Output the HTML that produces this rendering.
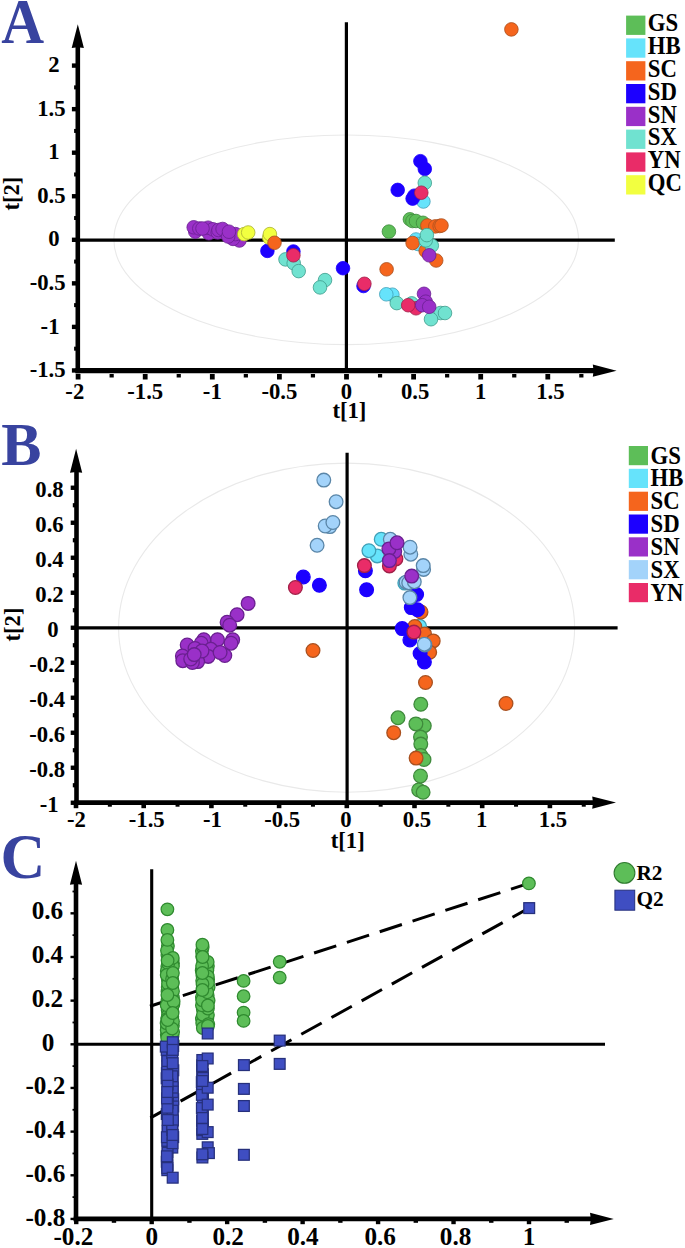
<!DOCTYPE html>
<html><head><meta charset="utf-8"><title>Figure</title>
<style>
html,body{margin:0;padding:0;background:#fff;}
body{width:685px;height:1248px;overflow:hidden;font-family:"Liberation Serif",serif;}
svg{display:block;position:absolute;left:0;top:0;}
text{font-family:"Liberation Serif",serif;font-weight:bold;fill:#000;}
</style></head><body>
<svg width="685" height="1248" viewBox="0 0 685 1248">
<rect width="685" height="1248" fill="#fff"/>
<ellipse cx="346.2" cy="239.8" rx="232.3" ry="104.8" fill="none" stroke="#e9e9e9" stroke-width="1.1"/>
<line x1="78" y1="240.2" x2="614.8" y2="240.2" stroke="#000" stroke-width="3.2"/>
<line x1="346.4" y1="22.3" x2="346.4" y2="370" stroke="#000" stroke-width="3.2"/>
<line x1="77.8" y1="39.3" x2="77.8" y2="373.3" stroke="#000" stroke-width="4.6"/>
<line x1="75.5" y1="370.7" x2="601.6" y2="370.7" stroke="#000" stroke-width="5.2"/>
<path d="M77.8,24.3 L83.9,48.1 L77.8,47.3 L71.7,48.1 Z" fill="#000"/>
<path d="M616.6,370.7 L592.8,376.8 L593.6,370.7 L592.8,364.6 Z" fill="#000"/>
<line x1="71.9" y1="65.6" x2="77.8" y2="65.6" stroke="#000" stroke-width="4.4"/>
<text transform="translate(59.5,72.2) scale(1.0,1)" font-size="22.7" text-anchor="end">2</text>
<line x1="71.9" y1="109.15" x2="77.8" y2="109.15" stroke="#000" stroke-width="4.4"/>
<text transform="translate(65.6,115.8) scale(1.0,1)" font-size="22.7" text-anchor="end">1.5</text>
<line x1="71.9" y1="152.7" x2="77.8" y2="152.7" stroke="#000" stroke-width="4.4"/>
<text transform="translate(59.5,159.3) scale(1.0,1)" font-size="22.7" text-anchor="end">1</text>
<line x1="71.9" y1="196.25" x2="77.8" y2="196.25" stroke="#000" stroke-width="4.4"/>
<text transform="translate(65.6,202.8) scale(1.0,1)" font-size="22.7" text-anchor="end">0.5</text>
<line x1="71.9" y1="239.8" x2="77.8" y2="239.8" stroke="#000" stroke-width="4.4"/>
<text transform="translate(59.5,246.4) scale(1.0,1)" font-size="22.7" text-anchor="end">0</text>
<line x1="71.9" y1="283.35" x2="77.8" y2="283.35" stroke="#000" stroke-width="4.4"/>
<text transform="translate(65.6,290.0) scale(1.0,1)" font-size="22.7" text-anchor="end">-0.5</text>
<line x1="71.9" y1="326.9" x2="77.8" y2="326.9" stroke="#000" stroke-width="4.4"/>
<text transform="translate(59.5,333.5) scale(1.0,1)" font-size="22.7" text-anchor="end">-1</text>
<line x1="71.9" y1="370.45" x2="77.8" y2="370.45" stroke="#000" stroke-width="4.4"/>
<text transform="translate(65.6,377.1) scale(1.0,1)" font-size="22.7" text-anchor="end">-1.5</text>
<line x1="74.1" y1="87.38" x2="77.8" y2="87.38" stroke="#000" stroke-width="4.0"/>
<line x1="74.1" y1="130.93" x2="77.8" y2="130.93" stroke="#000" stroke-width="4.0"/>
<line x1="74.1" y1="174.48" x2="77.8" y2="174.48" stroke="#000" stroke-width="4.0"/>
<line x1="74.1" y1="218.03" x2="77.8" y2="218.03" stroke="#000" stroke-width="4.0"/>
<line x1="74.1" y1="261.57" x2="77.8" y2="261.57" stroke="#000" stroke-width="4.0"/>
<line x1="74.1" y1="305.12" x2="77.8" y2="305.12" stroke="#000" stroke-width="4.0"/>
<line x1="74.1" y1="348.68" x2="77.8" y2="348.68" stroke="#000" stroke-width="4.0"/>
<line x1="78.1" y1="374.0" x2="78.1" y2="379.5" stroke="#000" stroke-width="4.8"/>
<text transform="translate(74.8,398.9) scale(1.0,1)" font-size="22.7" text-anchor="middle">-2</text>
<line x1="145.2" y1="374.0" x2="145.2" y2="379.5" stroke="#000" stroke-width="4.8"/>
<text transform="translate(145.2,398.9) scale(1.0,1)" font-size="22.7" text-anchor="middle">-1.5</text>
<line x1="212.3" y1="374.0" x2="212.3" y2="379.5" stroke="#000" stroke-width="4.8"/>
<text transform="translate(212.3,398.9) scale(1.0,1)" font-size="22.7" text-anchor="middle">-1</text>
<line x1="279.4" y1="374.0" x2="279.4" y2="379.5" stroke="#000" stroke-width="4.8"/>
<text transform="translate(279.4,398.9) scale(1.0,1)" font-size="22.7" text-anchor="middle">-0.5</text>
<line x1="346.5" y1="374.0" x2="346.5" y2="379.5" stroke="#000" stroke-width="4.8"/>
<text transform="translate(346.5,398.9) scale(1.0,1)" font-size="22.7" text-anchor="middle">0</text>
<line x1="413.6" y1="374.0" x2="413.6" y2="379.5" stroke="#000" stroke-width="4.8"/>
<text transform="translate(415.1,398.9) scale(1.0,1)" font-size="22.7" text-anchor="middle">0.5</text>
<line x1="480.7" y1="374.0" x2="480.7" y2="379.5" stroke="#000" stroke-width="4.8"/>
<text transform="translate(480.7,398.9) scale(1.0,1)" font-size="22.7" text-anchor="middle">1</text>
<line x1="547.8" y1="374.0" x2="547.8" y2="379.5" stroke="#000" stroke-width="4.8"/>
<text transform="translate(550.4,398.9) scale(1.0,1)" font-size="22.7" text-anchor="middle">1.5</text>
<line x1="111.65" y1="374.0" x2="111.65" y2="377.5" stroke="#000" stroke-width="4.2"/>
<line x1="178.75" y1="374.0" x2="178.75" y2="377.5" stroke="#000" stroke-width="4.2"/>
<line x1="245.85" y1="374.0" x2="245.85" y2="377.5" stroke="#000" stroke-width="4.2"/>
<line x1="312.95" y1="374.0" x2="312.95" y2="377.5" stroke="#000" stroke-width="4.2"/>
<line x1="380.05" y1="374.0" x2="380.05" y2="377.5" stroke="#000" stroke-width="4.2"/>
<line x1="447.15" y1="374.0" x2="447.15" y2="377.5" stroke="#000" stroke-width="4.2"/>
<line x1="514.25" y1="374.0" x2="514.25" y2="377.5" stroke="#000" stroke-width="4.2"/>
<line x1="581.35" y1="374.0" x2="581.35" y2="377.5" stroke="#000" stroke-width="4.2"/>
<text transform="translate(1.2,43.0) scale(0.95,1)" font-size="62.5" text-anchor="start" style="fill:#38439f">A</text>
<text transform="translate(349.4,418.2) scale(1.0,1)" font-size="22.7" text-anchor="middle">t[1]</text>
<text transform="translate(19.0,193.6) rotate(-90)" font-size="22.7" text-anchor="middle">t[2]</text>
<circle cx="388.9" cy="231.6" r="6.8" fill="#5dbe58" stroke="#3f8a3c" stroke-width="0.8"/>
<circle cx="409.9" cy="219.3" r="6.8" fill="#5dbe58" stroke="#3f8a3c" stroke-width="0.8"/>
<circle cx="412.5" cy="221.0" r="6.8" fill="#5dbe58" stroke="#3f8a3c" stroke-width="0.8"/>
<circle cx="416.0" cy="221.0" r="6.8" fill="#5dbe58" stroke="#3f8a3c" stroke-width="0.8"/>
<circle cx="423.0" cy="222.8" r="6.8" fill="#5dbe58" stroke="#3f8a3c" stroke-width="0.8"/>
<circle cx="423.4" cy="201.5" r="6.8" fill="#66e3fb" stroke="#3fa0b8" stroke-width="0.8"/>
<circle cx="416.0" cy="239.5" r="6.8" fill="#66e3fb" stroke="#3fa0b8" stroke-width="0.8"/>
<circle cx="418.0" cy="244.0" r="6.8" fill="#66e3fb" stroke="#3fa0b8" stroke-width="0.8"/>
<circle cx="392.4" cy="294.7" r="6.8" fill="#66e3fb" stroke="#3fa0b8" stroke-width="0.8"/>
<circle cx="386.3" cy="294.3" r="6.8" fill="#66e3fb" stroke="#3fa0b8" stroke-width="0.8"/>
<circle cx="511.4" cy="29.4" r="6.8" fill="#f5651d" stroke="#a8501f" stroke-width="0.8"/>
<circle cx="427.4" cy="225.5" r="6.8" fill="#f5651d" stroke="#a8501f" stroke-width="0.8"/>
<circle cx="435.3" cy="226.4" r="6.8" fill="#f5651d" stroke="#a8501f" stroke-width="0.8"/>
<circle cx="439.7" cy="226.0" r="6.8" fill="#f5651d" stroke="#a8501f" stroke-width="0.8"/>
<circle cx="441.5" cy="225.5" r="6.8" fill="#f5651d" stroke="#a8501f" stroke-width="0.8"/>
<circle cx="412.6" cy="243.0" r="6.8" fill="#f5651d" stroke="#a8501f" stroke-width="0.8"/>
<circle cx="425.7" cy="250.9" r="6.8" fill="#f5651d" stroke="#a8501f" stroke-width="0.8"/>
<circle cx="436.2" cy="260.5" r="6.8" fill="#f5651d" stroke="#a8501f" stroke-width="0.8"/>
<circle cx="386.6" cy="269.3" r="6.8" fill="#f5651d" stroke="#a8501f" stroke-width="0.8"/>
<circle cx="420.4" cy="161.2" r="6.8" fill="#1c00ff" stroke="#1c00ff" stroke-width="0.8"/>
<circle cx="424.8" cy="168.9" r="6.8" fill="#1c00ff" stroke="#1c00ff" stroke-width="0.8"/>
<circle cx="397.7" cy="189.9" r="6.8" fill="#1c00ff" stroke="#1c00ff" stroke-width="0.8"/>
<circle cx="412.6" cy="198.6" r="6.8" fill="#1c00ff" stroke="#1c00ff" stroke-width="0.8"/>
<circle cx="414.3" cy="195.7" r="6.8" fill="#1c00ff" stroke="#1c00ff" stroke-width="0.8"/>
<circle cx="363.5" cy="286.0" r="6.8" fill="#1c00ff" stroke="#1c00ff" stroke-width="0.8"/>
<circle cx="267.4" cy="250.9" r="6.8" fill="#1c00ff" stroke="#1c00ff" stroke-width="0.8"/>
<circle cx="293.4" cy="251.5" r="6.8" fill="#1c00ff" stroke="#1c00ff" stroke-width="0.8"/>
<circle cx="343.0" cy="268.2" r="6.8" fill="#1c00ff" stroke="#1c00ff" stroke-width="0.8"/>
<circle cx="424.8" cy="182.9" r="6.8" fill="#70e2d0" stroke="#3f9c8c" stroke-width="0.8"/>
<circle cx="431.8" cy="245.6" r="6.8" fill="#70e2d0" stroke="#3f9c8c" stroke-width="0.8"/>
<circle cx="425.7" cy="240.4" r="6.8" fill="#70e2d0" stroke="#3f9c8c" stroke-width="0.8"/>
<circle cx="426.9" cy="235.1" r="6.8" fill="#70e2d0" stroke="#3f9c8c" stroke-width="0.8"/>
<circle cx="396.8" cy="303.1" r="6.8" fill="#70e2d0" stroke="#3f9c8c" stroke-width="0.8"/>
<circle cx="411.7" cy="303.4" r="6.8" fill="#70e2d0" stroke="#3f9c8c" stroke-width="0.8"/>
<circle cx="440.6" cy="313.0" r="6.8" fill="#70e2d0" stroke="#3f9c8c" stroke-width="0.8"/>
<circle cx="445.0" cy="313.0" r="6.8" fill="#70e2d0" stroke="#3f9c8c" stroke-width="0.8"/>
<circle cx="431.0" cy="319.2" r="6.8" fill="#70e2d0" stroke="#3f9c8c" stroke-width="0.8"/>
<circle cx="285.5" cy="259.4" r="6.8" fill="#70e2d0" stroke="#3f9c8c" stroke-width="0.8"/>
<circle cx="293.7" cy="263.2" r="6.8" fill="#70e2d0" stroke="#3f9c8c" stroke-width="0.8"/>
<circle cx="298.7" cy="271.1" r="6.8" fill="#70e2d0" stroke="#3f9c8c" stroke-width="0.8"/>
<circle cx="325.0" cy="280.1" r="6.8" fill="#70e2d0" stroke="#3f9c8c" stroke-width="0.8"/>
<circle cx="320.0" cy="287.4" r="6.8" fill="#70e2d0" stroke="#3f9c8c" stroke-width="0.8"/>
<circle cx="421.3" cy="192.7" r="6.8" fill="#e92c68" stroke="#a02048" stroke-width="0.8"/>
<circle cx="364.4" cy="283.8" r="6.8" fill="#e92c68" stroke="#a02048" stroke-width="0.8"/>
<circle cx="416.0" cy="308.3" r="6.8" fill="#e92c68" stroke="#a02048" stroke-width="0.8"/>
<circle cx="408.2" cy="305.2" r="6.8" fill="#e92c68" stroke="#a02048" stroke-width="0.8"/>
<circle cx="293.4" cy="255.3" r="6.8" fill="#e92c68" stroke="#a02048" stroke-width="0.8"/>
<circle cx="429.2" cy="255.3" r="6.8" fill="#9a30c8" stroke="#6a2090" stroke-width="0.8"/>
<circle cx="424.0" cy="293.8" r="6.8" fill="#9a30c8" stroke="#6a2090" stroke-width="0.8"/>
<circle cx="425.7" cy="301.7" r="6.8" fill="#9a30c8" stroke="#6a2090" stroke-width="0.8"/>
<circle cx="422.2" cy="305.2" r="6.8" fill="#9a30c8" stroke="#6a2090" stroke-width="0.8"/>
<circle cx="429.2" cy="306.8" r="6.8" fill="#9a30c8" stroke="#6a2090" stroke-width="0.8"/>
<circle cx="195.3" cy="231.7" r="6.8" fill="#9a30c8" stroke="#6a2090" stroke-width="0.8"/>
<circle cx="193.7" cy="227.3" r="6.8" fill="#9a30c8" stroke="#6a2090" stroke-width="0.8"/>
<circle cx="199.3" cy="228.5" r="6.8" fill="#9a30c8" stroke="#6a2090" stroke-width="0.8"/>
<circle cx="208.9" cy="233.3" r="6.8" fill="#9a30c8" stroke="#6a2090" stroke-width="0.8"/>
<circle cx="208.1" cy="227.7" r="6.8" fill="#9a30c8" stroke="#6a2090" stroke-width="0.8"/>
<circle cx="212.9" cy="229.3" r="6.8" fill="#9a30c8" stroke="#6a2090" stroke-width="0.8"/>
<circle cx="217.7" cy="232.5" r="6.8" fill="#9a30c8" stroke="#6a2090" stroke-width="0.8"/>
<circle cx="218.5" cy="230.0" r="6.8" fill="#9a30c8" stroke="#6a2090" stroke-width="0.8"/>
<circle cx="222.6" cy="229.0" r="6.8" fill="#9a30c8" stroke="#6a2090" stroke-width="0.8"/>
<circle cx="239.4" cy="240.5" r="6.8" fill="#9a30c8" stroke="#6a2090" stroke-width="0.8"/>
<circle cx="233.0" cy="238.9" r="6.8" fill="#9a30c8" stroke="#6a2090" stroke-width="0.8"/>
<circle cx="235.4" cy="234.1" r="6.8" fill="#9a30c8" stroke="#6a2090" stroke-width="0.8"/>
<circle cx="228.2" cy="236.5" r="6.8" fill="#9a30c8" stroke="#6a2090" stroke-width="0.8"/>
<circle cx="229.0" cy="231.7" r="6.8" fill="#9a30c8" stroke="#6a2090" stroke-width="0.8"/>
<circle cx="202.5" cy="228.5" r="6.8" fill="#9a30c8" stroke="#6a2090" stroke-width="0.8"/>
<circle cx="244.2" cy="234.1" r="6.8" fill="#f2ff40" stroke="#a8b030" stroke-width="0.8"/>
<circle cx="248.2" cy="232.5" r="6.8" fill="#f2ff40" stroke="#a8b030" stroke-width="0.8"/>
<circle cx="269.2" cy="237.6" r="6.8" fill="#f2ff40" stroke="#a8b030" stroke-width="0.8"/>
<circle cx="269.9" cy="234.1" r="6.8" fill="#f2ff40" stroke="#a8b030" stroke-width="0.8"/>
<circle cx="274.5" cy="242.8" r="6.8" fill="#f5651d" stroke="#a8501f" stroke-width="0.8"/>
<rect x="626.1" y="15.6" width="19.3" height="19.3" fill="#5dbe58"/>
<text transform="translate(647.8,31.3) scale(0.94,1)" font-size="24.2" text-anchor="start">GS</text>
<rect x="626.1" y="38.4" width="19.3" height="19.3" fill="#66e3fb"/>
<text transform="translate(647.8,54.1) scale(0.94,1)" font-size="24.2" text-anchor="start">HB</text>
<rect x="626.1" y="61.2" width="19.3" height="19.3" fill="#f5651d"/>
<text transform="translate(647.8,76.9) scale(0.94,1)" font-size="24.2" text-anchor="start">SC</text>
<rect x="626.1" y="84.0" width="19.3" height="19.3" fill="#1c00ff"/>
<text transform="translate(647.8,99.7) scale(0.94,1)" font-size="24.2" text-anchor="start">SD</text>
<rect x="626.1" y="106.8" width="19.3" height="19.3" fill="#9a30c8"/>
<text transform="translate(647.8,122.5) scale(0.94,1)" font-size="24.2" text-anchor="start">SN</text>
<rect x="626.1" y="129.6" width="19.3" height="19.3" fill="#70e2d0"/>
<text transform="translate(647.8,145.3) scale(0.94,1)" font-size="24.2" text-anchor="start">SX</text>
<rect x="626.1" y="152.4" width="19.3" height="19.3" fill="#e92c68"/>
<text transform="translate(647.8,168.1) scale(0.94,1)" font-size="24.2" text-anchor="start">YN</text>
<rect x="626.1" y="175.2" width="19.3" height="19.3" fill="#f2ff40"/>
<text transform="translate(647.8,190.9) scale(0.94,1)" font-size="24.2" text-anchor="start">QC</text>
<ellipse cx="346.6" cy="627.65" rx="228" ry="164.55" fill="none" stroke="#e9e9e9" stroke-width="1.1"/>
<line x1="76" y1="627.85" x2="617.6" y2="627.85" stroke="#000" stroke-width="3.2"/>
<line x1="347.1" y1="452.8" x2="347.1" y2="803" stroke="#000" stroke-width="3.2"/>
<line x1="76.5" y1="463.8" x2="76.5" y2="804.9" stroke="#000" stroke-width="4.6"/>
<line x1="74.2" y1="802.6" x2="601" y2="802.6" stroke="#000" stroke-width="4.6"/>
<path d="M76.1,448.8 L82.2,472.8 L76.1,472.0 L70.0,472.8 Z" fill="#000"/>
<path d="M616,802.6 L592.2,808.7 L593.0,802.6 L592.2,796.5 Z" fill="#000"/>
<line x1="70.7" y1="802.75" x2="76.5" y2="802.75" stroke="#000" stroke-width="4.4"/>
<text transform="translate(58.6,812.0) scale(1.0,1)" font-size="22.7" text-anchor="end">-1</text>
<line x1="72.8" y1="785.25" x2="76.5" y2="785.25" stroke="#000" stroke-width="4.2"/>
<line x1="70.7" y1="767.75" x2="76.5" y2="767.75" stroke="#000" stroke-width="4.4"/>
<text transform="translate(65.2,777.0) scale(1.0,1)" font-size="22.7" text-anchor="end">-0.8</text>
<line x1="72.8" y1="750.25" x2="76.5" y2="750.25" stroke="#000" stroke-width="4.2"/>
<line x1="70.7" y1="732.75" x2="76.5" y2="732.75" stroke="#000" stroke-width="4.4"/>
<text transform="translate(65.2,742.0) scale(1.0,1)" font-size="22.7" text-anchor="end">-0.6</text>
<line x1="72.8" y1="715.25" x2="76.5" y2="715.25" stroke="#000" stroke-width="4.2"/>
<line x1="70.7" y1="697.75" x2="76.5" y2="697.75" stroke="#000" stroke-width="4.4"/>
<text transform="translate(65.2,707.0) scale(1.0,1)" font-size="22.7" text-anchor="end">-0.4</text>
<line x1="72.8" y1="680.25" x2="76.5" y2="680.25" stroke="#000" stroke-width="4.2"/>
<line x1="70.7" y1="662.75" x2="76.5" y2="662.75" stroke="#000" stroke-width="4.4"/>
<text transform="translate(65.2,672.0) scale(1.0,1)" font-size="22.7" text-anchor="end">-0.2</text>
<line x1="72.8" y1="645.25" x2="76.5" y2="645.25" stroke="#000" stroke-width="4.2"/>
<line x1="70.7" y1="627.75" x2="76.5" y2="627.75" stroke="#000" stroke-width="4.4"/>
<text transform="translate(58.6,637.0) scale(1.0,1)" font-size="22.7" text-anchor="end">0</text>
<line x1="72.8" y1="610.25" x2="76.5" y2="610.25" stroke="#000" stroke-width="4.2"/>
<line x1="70.7" y1="592.75" x2="76.5" y2="592.75" stroke="#000" stroke-width="4.4"/>
<text transform="translate(63.7,602.0) scale(1.0,1)" font-size="22.7" text-anchor="end">0.2</text>
<line x1="72.8" y1="575.25" x2="76.5" y2="575.25" stroke="#000" stroke-width="4.2"/>
<line x1="70.7" y1="557.75" x2="76.5" y2="557.75" stroke="#000" stroke-width="4.4"/>
<text transform="translate(63.7,567.0) scale(1.0,1)" font-size="22.7" text-anchor="end">0.4</text>
<line x1="72.8" y1="540.25" x2="76.5" y2="540.25" stroke="#000" stroke-width="4.2"/>
<line x1="70.7" y1="522.75" x2="76.5" y2="522.75" stroke="#000" stroke-width="4.4"/>
<text transform="translate(63.7,532.0) scale(1.0,1)" font-size="22.7" text-anchor="end">0.6</text>
<line x1="72.8" y1="505.25" x2="76.5" y2="505.25" stroke="#000" stroke-width="4.2"/>
<line x1="70.7" y1="487.75" x2="76.5" y2="487.75" stroke="#000" stroke-width="4.4"/>
<text transform="translate(63.7,496.9) scale(1.0,1)" font-size="22.7" text-anchor="end">0.8</text>
<line x1="76.0" y1="802.6" x2="76.0" y2="808.2" stroke="#000" stroke-width="4.6"/>
<text transform="translate(76.5,827.0) scale(1.0,1)" font-size="22.7" text-anchor="middle">-2</text>
<line x1="143.7" y1="802.6" x2="143.7" y2="808.2" stroke="#000" stroke-width="4.6"/>
<text transform="translate(146.7,827.0) scale(1.0,1)" font-size="22.7" text-anchor="middle">-1.5</text>
<line x1="211.4" y1="802.6" x2="211.4" y2="808.2" stroke="#000" stroke-width="4.6"/>
<text transform="translate(212.4,827.0) scale(1.0,1)" font-size="22.7" text-anchor="middle">-1</text>
<line x1="279.1" y1="802.6" x2="279.1" y2="808.2" stroke="#000" stroke-width="4.6"/>
<text transform="translate(282.1,827.0) scale(1.0,1)" font-size="22.7" text-anchor="middle">-0.5</text>
<line x1="346.8" y1="802.6" x2="346.8" y2="808.2" stroke="#000" stroke-width="4.6"/>
<text transform="translate(345.8,827.0) scale(1.0,1)" font-size="22.7" text-anchor="middle">0</text>
<line x1="414.5" y1="802.6" x2="414.5" y2="808.2" stroke="#000" stroke-width="4.6"/>
<text transform="translate(417.0,827.0) scale(1.0,1)" font-size="22.7" text-anchor="middle">0.5</text>
<line x1="482.2" y1="802.6" x2="482.2" y2="808.2" stroke="#000" stroke-width="4.6"/>
<text transform="translate(481.7,827.0) scale(1.0,1)" font-size="22.7" text-anchor="middle">1</text>
<line x1="549.9" y1="802.6" x2="549.9" y2="808.2" stroke="#000" stroke-width="4.6"/>
<text transform="translate(552.9,827.0) scale(1.0,1)" font-size="22.7" text-anchor="middle">1.5</text>
<line x1="109.85" y1="802.6" x2="109.85" y2="806.7" stroke="#000" stroke-width="4.0"/>
<line x1="177.55" y1="802.6" x2="177.55" y2="806.7" stroke="#000" stroke-width="4.0"/>
<line x1="245.25" y1="802.6" x2="245.25" y2="806.7" stroke="#000" stroke-width="4.0"/>
<line x1="312.95" y1="802.6" x2="312.95" y2="806.7" stroke="#000" stroke-width="4.0"/>
<line x1="380.65" y1="802.6" x2="380.65" y2="806.7" stroke="#000" stroke-width="4.0"/>
<line x1="448.35" y1="802.6" x2="448.35" y2="806.7" stroke="#000" stroke-width="4.0"/>
<line x1="516.05" y1="802.6" x2="516.05" y2="806.7" stroke="#000" stroke-width="4.0"/>
<line x1="583.75" y1="802.6" x2="583.75" y2="806.7" stroke="#000" stroke-width="4.0"/>
<text transform="translate(1.2,465.2) scale(0.98,1)" font-size="61.5" text-anchor="start" style="fill:#38439f">B</text>
<text transform="translate(347.7,848.3) scale(1.0,1)" font-size="22.7" text-anchor="middle">t[1]</text>
<text transform="translate(20.4,624.5) rotate(-90)" font-size="22.7" text-anchor="middle">t[2]</text>
<circle cx="420.8" cy="704.3" r="6.85" fill="#5dbe58" stroke="#3f8a3c" stroke-width="1.3"/>
<circle cx="398.0" cy="717.8" r="6.85" fill="#5dbe58" stroke="#3f8a3c" stroke-width="1.3"/>
<circle cx="424.3" cy="725.7" r="6.85" fill="#5dbe58" stroke="#3f8a3c" stroke-width="1.3"/>
<circle cx="415.9" cy="723.9" r="6.85" fill="#5dbe58" stroke="#3f8a3c" stroke-width="1.3"/>
<circle cx="420.5" cy="737.1" r="6.85" fill="#5dbe58" stroke="#3f8a3c" stroke-width="1.3"/>
<circle cx="420.8" cy="744.1" r="6.85" fill="#5dbe58" stroke="#3f8a3c" stroke-width="1.3"/>
<circle cx="420.8" cy="755.5" r="6.85" fill="#5dbe58" stroke="#3f8a3c" stroke-width="1.3"/>
<circle cx="424.0" cy="759.5" r="6.85" fill="#5dbe58" stroke="#3f8a3c" stroke-width="1.3"/>
<circle cx="420.5" cy="776.0" r="6.85" fill="#5dbe58" stroke="#3f8a3c" stroke-width="1.3"/>
<circle cx="418.7" cy="790.0" r="6.85" fill="#5dbe58" stroke="#3f8a3c" stroke-width="1.3"/>
<circle cx="423.1" cy="792.3" r="6.85" fill="#5dbe58" stroke="#3f8a3c" stroke-width="1.3"/>
<circle cx="381.2" cy="539.3" r="6.85" fill="#66e3fb" stroke="#3fa0b8" stroke-width="1.3"/>
<circle cx="377.2" cy="555.9" r="6.85" fill="#66e3fb" stroke="#3fa0b8" stroke-width="1.3"/>
<circle cx="368.9" cy="550.7" r="6.85" fill="#66e3fb" stroke="#3fa0b8" stroke-width="1.3"/>
<circle cx="404.8" cy="583.1" r="6.85" fill="#66e3fb" stroke="#3fa0b8" stroke-width="1.3"/>
<circle cx="419.6" cy="626.3" r="6.85" fill="#66e3fb" stroke="#3fa0b8" stroke-width="1.3"/>
<circle cx="421.0" cy="612.0" r="6.85" fill="#f5651d" stroke="#a8501f" stroke-width="1.3"/>
<circle cx="414.8" cy="626.5" r="6.85" fill="#f5651d" stroke="#a8501f" stroke-width="1.3"/>
<circle cx="424.5" cy="633.9" r="6.85" fill="#f5651d" stroke="#a8501f" stroke-width="1.3"/>
<circle cx="433.2" cy="640.9" r="6.85" fill="#f5651d" stroke="#a8501f" stroke-width="1.3"/>
<circle cx="429.7" cy="652.3" r="6.85" fill="#f5651d" stroke="#a8501f" stroke-width="1.3"/>
<circle cx="425.5" cy="682.5" r="6.85" fill="#f5651d" stroke="#a8501f" stroke-width="1.3"/>
<circle cx="393.7" cy="732.7" r="6.85" fill="#f5651d" stroke="#a8501f" stroke-width="1.3"/>
<circle cx="416.1" cy="758.1" r="6.85" fill="#f5651d" stroke="#a8501f" stroke-width="1.3"/>
<circle cx="313.0" cy="650.5" r="6.85" fill="#f5651d" stroke="#a8501f" stroke-width="1.3"/>
<circle cx="506.0" cy="703.5" r="6.85" fill="#f5651d" stroke="#a8501f" stroke-width="1.3"/>
<circle cx="303.3" cy="577.0" r="6.85" fill="#1c00ff" stroke="#1c00ff" stroke-width="1.3"/>
<circle cx="319.4" cy="585.3" r="6.85" fill="#1c00ff" stroke="#1c00ff" stroke-width="1.3"/>
<circle cx="365.4" cy="570.8" r="6.85" fill="#1c00ff" stroke="#1c00ff" stroke-width="1.3"/>
<circle cx="366.6" cy="589.7" r="6.85" fill="#1c00ff" stroke="#1c00ff" stroke-width="1.3"/>
<circle cx="416.6" cy="594.5" r="6.85" fill="#1c00ff" stroke="#1c00ff" stroke-width="1.3"/>
<circle cx="411.3" cy="607.6" r="6.85" fill="#1c00ff" stroke="#1c00ff" stroke-width="1.3"/>
<circle cx="417.5" cy="609.7" r="6.85" fill="#1c00ff" stroke="#1c00ff" stroke-width="1.3"/>
<circle cx="402.2" cy="628.6" r="6.85" fill="#1c00ff" stroke="#1c00ff" stroke-width="1.3"/>
<circle cx="409.9" cy="640.0" r="6.85" fill="#1c00ff" stroke="#1c00ff" stroke-width="1.3"/>
<circle cx="420.1" cy="653.5" r="6.85" fill="#1c00ff" stroke="#1c00ff" stroke-width="1.3"/>
<circle cx="424.4" cy="662.0" r="6.85" fill="#1c00ff" stroke="#1c00ff" stroke-width="1.3"/>
<circle cx="323.8" cy="480.1" r="6.85" fill="#a3d3fa" stroke="#5a86a8" stroke-width="1.3"/>
<circle cx="336.1" cy="501.7" r="6.85" fill="#a3d3fa" stroke="#5a86a8" stroke-width="1.3"/>
<circle cx="329.9" cy="526.6" r="6.85" fill="#a3d3fa" stroke="#5a86a8" stroke-width="1.3"/>
<circle cx="325.2" cy="526.0" r="6.85" fill="#a3d3fa" stroke="#5a86a8" stroke-width="1.3"/>
<circle cx="332.9" cy="522.5" r="6.85" fill="#a3d3fa" stroke="#5a86a8" stroke-width="1.3"/>
<circle cx="317.1" cy="545.3" r="6.85" fill="#a3d3fa" stroke="#5a86a8" stroke-width="1.3"/>
<circle cx="390.3" cy="539.3" r="6.85" fill="#a3d3fa" stroke="#5a86a8" stroke-width="1.3"/>
<circle cx="410.8" cy="554.2" r="6.85" fill="#a3d3fa" stroke="#5a86a8" stroke-width="1.3"/>
<circle cx="410.1" cy="547.2" r="6.85" fill="#a3d3fa" stroke="#5a86a8" stroke-width="1.3"/>
<circle cx="423.6" cy="569.4" r="6.85" fill="#a3d3fa" stroke="#5a86a8" stroke-width="1.3"/>
<circle cx="423.2" cy="565.6" r="6.85" fill="#a3d3fa" stroke="#5a86a8" stroke-width="1.3"/>
<circle cx="406.1" cy="582.2" r="6.85" fill="#a3d3fa" stroke="#5a86a8" stroke-width="1.3"/>
<circle cx="408.7" cy="582.7" r="6.85" fill="#a3d3fa" stroke="#5a86a8" stroke-width="1.3"/>
<circle cx="414.3" cy="581.7" r="6.85" fill="#a3d3fa" stroke="#5a86a8" stroke-width="1.3"/>
<circle cx="409.9" cy="597.6" r="6.85" fill="#a3d3fa" stroke="#5a86a8" stroke-width="1.3"/>
<circle cx="295.4" cy="587.5" r="6.85" fill="#e92c68" stroke="#a02048" stroke-width="1.3"/>
<circle cx="364.4" cy="565.6" r="6.85" fill="#e92c68" stroke="#a02048" stroke-width="1.3"/>
<circle cx="395.9" cy="558.9" r="6.85" fill="#e92c68" stroke="#a02048" stroke-width="1.3"/>
<circle cx="389.4" cy="565.9" r="6.85" fill="#e92c68" stroke="#a02048" stroke-width="1.3"/>
<circle cx="394.7" cy="551.5" r="6.85" fill="#9a30c8" stroke="#6a2090" stroke-width="1.3"/>
<circle cx="388.9" cy="548.9" r="6.85" fill="#9a30c8" stroke="#6a2090" stroke-width="1.3"/>
<circle cx="397.0" cy="542.8" r="6.85" fill="#9a30c8" stroke="#6a2090" stroke-width="1.3"/>
<circle cx="389.4" cy="560.6" r="6.85" fill="#9a30c8" stroke="#6a2090" stroke-width="1.3"/>
<circle cx="411.7" cy="576.1" r="6.85" fill="#9a30c8" stroke="#6a2090" stroke-width="1.3"/>
<circle cx="248.1" cy="603.4" r="6.85" fill="#9a30c8" stroke="#6a2090" stroke-width="1.3"/>
<circle cx="237.1" cy="614.7" r="6.85" fill="#9a30c8" stroke="#6a2090" stroke-width="1.3"/>
<circle cx="227.1" cy="622.2" r="6.85" fill="#9a30c8" stroke="#6a2090" stroke-width="1.3"/>
<circle cx="229.7" cy="625.2" r="6.85" fill="#9a30c8" stroke="#6a2090" stroke-width="1.3"/>
<circle cx="232.7" cy="639.7" r="6.85" fill="#9a30c8" stroke="#6a2090" stroke-width="1.3"/>
<circle cx="217.5" cy="639.7" r="6.85" fill="#9a30c8" stroke="#6a2090" stroke-width="1.3"/>
<circle cx="203.8" cy="639.7" r="6.85" fill="#9a30c8" stroke="#6a2090" stroke-width="1.3"/>
<circle cx="201.2" cy="643.2" r="6.85" fill="#9a30c8" stroke="#6a2090" stroke-width="1.3"/>
<circle cx="187.2" cy="645.0" r="6.85" fill="#9a30c8" stroke="#6a2090" stroke-width="1.3"/>
<circle cx="210.8" cy="649.3" r="6.85" fill="#9a30c8" stroke="#6a2090" stroke-width="1.3"/>
<circle cx="224.8" cy="655.5" r="6.85" fill="#9a30c8" stroke="#6a2090" stroke-width="1.3"/>
<circle cx="208.2" cy="656.4" r="6.85" fill="#9a30c8" stroke="#6a2090" stroke-width="1.3"/>
<circle cx="182.4" cy="656.0" r="6.85" fill="#9a30c8" stroke="#6a2090" stroke-width="1.3"/>
<circle cx="182.8" cy="660.7" r="6.85" fill="#9a30c8" stroke="#6a2090" stroke-width="1.3"/>
<circle cx="197.7" cy="661.6" r="6.85" fill="#9a30c8" stroke="#6a2090" stroke-width="1.3"/>
<circle cx="192.4" cy="662.5" r="6.85" fill="#9a30c8" stroke="#6a2090" stroke-width="1.3"/>
<circle cx="190.7" cy="659.0" r="6.85" fill="#9a30c8" stroke="#6a2090" stroke-width="1.3"/>
<circle cx="195.0" cy="648.5" r="6.85" fill="#9a30c8" stroke="#6a2090" stroke-width="1.3"/>
<circle cx="231.0" cy="643.2" r="6.85" fill="#9a30c8" stroke="#6a2090" stroke-width="1.3"/>
<circle cx="220.1" cy="652.5" r="6.85" fill="#9a30c8" stroke="#6a2090" stroke-width="1.3"/>
<circle cx="202.0" cy="651.0" r="6.85" fill="#9a30c8" stroke="#6a2090" stroke-width="1.3"/>
<circle cx="194.2" cy="654.6" r="6.85" fill="#9a30c8" stroke="#6a2090" stroke-width="1.3"/>
<circle cx="413.9" cy="632.1" r="6.85" fill="#e92c68" stroke="#a02048" stroke-width="1.3"/>
<circle cx="424.9" cy="644.9" r="6.85" fill="#a3d3fa" stroke="#5a86a8" stroke-width="1.3"/>
<circle cx="424.3" cy="644.2" r="6.85" fill="#a3d3fa" stroke="#5a86a8" stroke-width="1.3"/>
<rect x="628.8" y="446.0" width="19.2" height="19.2" fill="#5dbe58"/>
<text transform="translate(650.6,463.5) scale(0.94,1)" font-size="24.2" text-anchor="start">GS</text>
<rect x="628.8" y="468.8" width="19.2" height="19.2" fill="#66e3fb"/>
<text transform="translate(650.6,486.3) scale(0.94,1)" font-size="24.2" text-anchor="start">HB</text>
<rect x="628.8" y="491.7" width="19.2" height="19.2" fill="#f5651d"/>
<text transform="translate(650.6,509.2) scale(0.94,1)" font-size="24.2" text-anchor="start">SC</text>
<rect x="628.8" y="514.5" width="19.2" height="19.2" fill="#1c00ff"/>
<text transform="translate(650.6,532.0) scale(0.94,1)" font-size="24.2" text-anchor="start">SD</text>
<rect x="628.8" y="537.3" width="19.2" height="19.2" fill="#9a30c8"/>
<text transform="translate(650.6,554.8) scale(0.94,1)" font-size="24.2" text-anchor="start">SN</text>
<rect x="628.8" y="560.1" width="19.2" height="19.2" fill="#a3d3fa"/>
<text transform="translate(650.6,577.6) scale(0.94,1)" font-size="24.2" text-anchor="start">SX</text>
<rect x="628.8" y="583.0" width="19.2" height="19.2" fill="#e92c68"/>
<text transform="translate(650.6,600.5) scale(0.94,1)" font-size="24.2" text-anchor="start">YN</text>
<line x1="76" y1="1044.3" x2="605" y2="1044.3" stroke="#000" stroke-width="3.1"/>
<line x1="151.7" y1="869.3" x2="151.7" y2="1218" stroke="#000" stroke-width="3.1"/>
<line x1="150.0" y1="1006.2" x2="528.7" y2="883.4" stroke="#000" stroke-width="3" stroke-dasharray="23.3 11.2"/>
<line x1="150.4" y1="1117.9" x2="528.9" y2="908.1" stroke="#000" stroke-width="3" stroke-dasharray="23.3 11.2"/>
<line x1="76.0" y1="875.8" x2="76.0" y2="1221.2" stroke="#000" stroke-width="4.6"/>
<line x1="73.7" y1="1218.9" x2="598.8" y2="1218.9" stroke="#000" stroke-width="4.6"/>
<path d="M76.0,860.8 L82.1,884.8 L76.0,884.0 L69.9,884.8 Z" fill="#000"/>
<path d="M613.8,1218.9 L590.0,1225.0 L590.8,1218.9 L590.0,1212.8 Z" fill="#000"/>
<line x1="70.5" y1="1218.94" x2="76.0" y2="1218.94" stroke="#000" stroke-width="2.4"/>
<text transform="translate(65.4,1225.8) scale(0.97,1)" font-size="26" text-anchor="end">-0.8</text>
<line x1="72.5" y1="1197.11" x2="76.0" y2="1197.11" stroke="#000" stroke-width="1.8"/>
<line x1="70.5" y1="1175.28" x2="76.0" y2="1175.28" stroke="#000" stroke-width="2.4"/>
<text transform="translate(65.4,1182.0) scale(0.97,1)" font-size="26" text-anchor="end">-0.6</text>
<line x1="72.5" y1="1153.45" x2="76.0" y2="1153.45" stroke="#000" stroke-width="1.8"/>
<line x1="70.5" y1="1131.62" x2="76.0" y2="1131.62" stroke="#000" stroke-width="2.4"/>
<text transform="translate(65.4,1138.1) scale(0.97,1)" font-size="26" text-anchor="end">-0.4</text>
<line x1="72.5" y1="1109.79" x2="76.0" y2="1109.79" stroke="#000" stroke-width="1.8"/>
<line x1="70.5" y1="1087.96" x2="76.0" y2="1087.96" stroke="#000" stroke-width="2.4"/>
<text transform="translate(65.4,1094.3) scale(0.97,1)" font-size="26" text-anchor="end">-0.2</text>
<line x1="72.5" y1="1066.13" x2="76.0" y2="1066.13" stroke="#000" stroke-width="1.8"/>
<line x1="70.5" y1="1044.3" x2="76.0" y2="1044.3" stroke="#000" stroke-width="2.4"/>
<text transform="translate(54.3,1051.2) scale(0.97,1)" font-size="26" text-anchor="end">0</text>
<line x1="72.5" y1="1022.47" x2="76.0" y2="1022.47" stroke="#000" stroke-width="1.8"/>
<line x1="70.5" y1="1000.64" x2="76.0" y2="1000.64" stroke="#000" stroke-width="2.4"/>
<text transform="translate(63.2,1006.5) scale(0.97,1)" font-size="26" text-anchor="end">0.2</text>
<line x1="72.5" y1="978.81" x2="76.0" y2="978.81" stroke="#000" stroke-width="1.8"/>
<line x1="70.5" y1="956.98" x2="76.0" y2="956.98" stroke="#000" stroke-width="2.4"/>
<text transform="translate(63.2,962.7) scale(0.97,1)" font-size="26" text-anchor="end">0.4</text>
<line x1="72.5" y1="935.15" x2="76.0" y2="935.15" stroke="#000" stroke-width="1.8"/>
<line x1="70.5" y1="913.32" x2="76.0" y2="913.32" stroke="#000" stroke-width="2.4"/>
<text transform="translate(63.2,918.8) scale(0.97,1)" font-size="26" text-anchor="end">0.6</text>
<line x1="72.5" y1="891.49" x2="76.0" y2="891.49" stroke="#000" stroke-width="1.8"/>
<line x1="76.24" y1="1218.9" x2="76.24" y2="1224.2" stroke="#000" stroke-width="4.4"/>
<text transform="translate(73.4,1245.3) scale(0.97,1)" font-size="26" text-anchor="middle">-0.2</text>
<line x1="113.97" y1="1218.9" x2="113.97" y2="1222.8" stroke="#000" stroke-width="4.4"/>
<line x1="151.7" y1="1218.9" x2="151.7" y2="1224.2" stroke="#000" stroke-width="4.4"/>
<text transform="translate(151.7,1245.3) scale(0.97,1)" font-size="26" text-anchor="middle">0</text>
<line x1="189.43" y1="1218.9" x2="189.43" y2="1222.8" stroke="#000" stroke-width="4.4"/>
<line x1="227.16" y1="1218.9" x2="227.16" y2="1224.2" stroke="#000" stroke-width="4.4"/>
<text transform="translate(228.2,1245.3) scale(0.97,1)" font-size="26" text-anchor="middle">0.2</text>
<line x1="264.89" y1="1218.9" x2="264.89" y2="1222.8" stroke="#000" stroke-width="4.4"/>
<line x1="302.62" y1="1218.9" x2="302.62" y2="1224.2" stroke="#000" stroke-width="4.4"/>
<text transform="translate(302.9,1245.3) scale(0.97,1)" font-size="26" text-anchor="middle">0.4</text>
<line x1="340.35" y1="1218.9" x2="340.35" y2="1222.8" stroke="#000" stroke-width="4.4"/>
<line x1="378.08" y1="1218.9" x2="378.08" y2="1224.2" stroke="#000" stroke-width="4.4"/>
<text transform="translate(380.2,1245.3) scale(0.97,1)" font-size="26" text-anchor="middle">0.6</text>
<line x1="415.81" y1="1218.9" x2="415.81" y2="1222.8" stroke="#000" stroke-width="4.4"/>
<line x1="453.54" y1="1218.9" x2="453.54" y2="1224.2" stroke="#000" stroke-width="4.4"/>
<text transform="translate(455.6,1245.3) scale(0.97,1)" font-size="26" text-anchor="middle">0.8</text>
<line x1="491.27" y1="1218.9" x2="491.27" y2="1222.8" stroke="#000" stroke-width="4.4"/>
<line x1="529.0" y1="1218.9" x2="529.0" y2="1224.2" stroke="#000" stroke-width="4.4"/>
<text transform="translate(529.0,1245.3) scale(0.97,1)" font-size="26" text-anchor="middle">1</text>
<line x1="566.73" y1="1218.9" x2="566.73" y2="1222.8" stroke="#000" stroke-width="4.4"/>
<text transform="translate(0.6,877.5) scale(0.97,1)" font-size="64" text-anchor="start" style="fill:#38439f">C</text>
<circle cx="172.1" cy="970.2" r="6.3" fill="#5dbe58" stroke="#2f8a2f" stroke-width="1.25"/>
<circle cx="167.5" cy="991.4" r="6.3" fill="#5dbe58" stroke="#2f8a2f" stroke-width="1.25"/>
<circle cx="173.0" cy="963.2" r="6.3" fill="#5dbe58" stroke="#2f8a2f" stroke-width="1.25"/>
<circle cx="172.7" cy="1041.1" r="6.3" fill="#5dbe58" stroke="#2f8a2f" stroke-width="1.25"/>
<circle cx="172.5" cy="1011.2" r="6.3" fill="#5dbe58" stroke="#2f8a2f" stroke-width="1.25"/>
<circle cx="166.9" cy="1027.2" r="6.3" fill="#5dbe58" stroke="#2f8a2f" stroke-width="1.25"/>
<circle cx="172.2" cy="1008.1" r="6.3" fill="#5dbe58" stroke="#2f8a2f" stroke-width="1.25"/>
<circle cx="172.3" cy="1016.8" r="6.3" fill="#5dbe58" stroke="#2f8a2f" stroke-width="1.25"/>
<circle cx="173.4" cy="1004.3" r="6.3" fill="#5dbe58" stroke="#2f8a2f" stroke-width="1.25"/>
<circle cx="166.8" cy="1034.8" r="6.3" fill="#5dbe58" stroke="#2f8a2f" stroke-width="1.25"/>
<circle cx="172.9" cy="1025.7" r="6.3" fill="#5dbe58" stroke="#2f8a2f" stroke-width="1.25"/>
<circle cx="172.5" cy="1036.3" r="6.3" fill="#5dbe58" stroke="#2f8a2f" stroke-width="1.25"/>
<circle cx="167.4" cy="1000.7" r="6.3" fill="#5dbe58" stroke="#2f8a2f" stroke-width="1.25"/>
<circle cx="172.7" cy="982.0" r="6.3" fill="#5dbe58" stroke="#2f8a2f" stroke-width="1.25"/>
<circle cx="167.6" cy="1009.9" r="6.3" fill="#5dbe58" stroke="#2f8a2f" stroke-width="1.25"/>
<circle cx="167.4" cy="954.9" r="6.3" fill="#5dbe58" stroke="#2f8a2f" stroke-width="1.25"/>
<circle cx="172.9" cy="997.3" r="6.3" fill="#5dbe58" stroke="#2f8a2f" stroke-width="1.25"/>
<circle cx="167.9" cy="1015.5" r="6.3" fill="#5dbe58" stroke="#2f8a2f" stroke-width="1.25"/>
<circle cx="167.9" cy="995.3" r="6.3" fill="#5dbe58" stroke="#2f8a2f" stroke-width="1.25"/>
<circle cx="173.1" cy="1032.0" r="6.3" fill="#5dbe58" stroke="#2f8a2f" stroke-width="1.25"/>
<circle cx="173.0" cy="1021.6" r="6.3" fill="#5dbe58" stroke="#2f8a2f" stroke-width="1.25"/>
<circle cx="172.5" cy="960.0" r="6.3" fill="#5dbe58" stroke="#2f8a2f" stroke-width="1.25"/>
<circle cx="167.7" cy="987.1" r="6.3" fill="#5dbe58" stroke="#2f8a2f" stroke-width="1.25"/>
<circle cx="167.9" cy="946.0" r="6.3" fill="#5dbe58" stroke="#2f8a2f" stroke-width="1.25"/>
<circle cx="167.8" cy="979.5" r="6.3" fill="#5dbe58" stroke="#2f8a2f" stroke-width="1.25"/>
<circle cx="166.7" cy="1030.0" r="6.3" fill="#5dbe58" stroke="#2f8a2f" stroke-width="1.25"/>
<circle cx="167.2" cy="1038.0" r="6.3" fill="#5dbe58" stroke="#2f8a2f" stroke-width="1.25"/>
<circle cx="172.9" cy="966.2" r="6.3" fill="#5dbe58" stroke="#2f8a2f" stroke-width="1.25"/>
<circle cx="172.1" cy="974.7" r="6.3" fill="#5dbe58" stroke="#2f8a2f" stroke-width="1.25"/>
<circle cx="172.2" cy="987.7" r="6.3" fill="#5dbe58" stroke="#2f8a2f" stroke-width="1.25"/>
<circle cx="168.0" cy="983.7" r="6.3" fill="#5dbe58" stroke="#2f8a2f" stroke-width="1.25"/>
<circle cx="167.8" cy="960.1" r="6.3" fill="#5dbe58" stroke="#2f8a2f" stroke-width="1.25"/>
<circle cx="167.0" cy="950.6" r="6.3" fill="#5dbe58" stroke="#2f8a2f" stroke-width="1.25"/>
<circle cx="167.3" cy="966.2" r="6.3" fill="#5dbe58" stroke="#2f8a2f" stroke-width="1.25"/>
<circle cx="167.2" cy="1018.8" r="6.3" fill="#5dbe58" stroke="#2f8a2f" stroke-width="1.25"/>
<circle cx="166.6" cy="1023.3" r="6.3" fill="#5dbe58" stroke="#2f8a2f" stroke-width="1.25"/>
<circle cx="166.8" cy="971.0" r="6.3" fill="#5dbe58" stroke="#2f8a2f" stroke-width="1.25"/>
<circle cx="173.0" cy="991.2" r="6.3" fill="#5dbe58" stroke="#2f8a2f" stroke-width="1.25"/>
<circle cx="172.1" cy="1028.6" r="6.3" fill="#5dbe58" stroke="#2f8a2f" stroke-width="1.25"/>
<circle cx="166.7" cy="1005.2" r="6.3" fill="#5dbe58" stroke="#2f8a2f" stroke-width="1.25"/>
<circle cx="168.2" cy="963.4" r="6.3" fill="#5dbe58" stroke="#2f8a2f" stroke-width="1.25"/>
<circle cx="166.7" cy="975.0" r="6.3" fill="#5dbe58" stroke="#2f8a2f" stroke-width="1.25"/>
<circle cx="173.6" cy="1001.5" r="6.3" fill="#5dbe58" stroke="#2f8a2f" stroke-width="1.25"/>
<circle cx="172.1" cy="979.0" r="6.3" fill="#5dbe58" stroke="#2f8a2f" stroke-width="1.25"/>
<circle cx="167.4" cy="909.3" r="6.3" fill="#5dbe58" stroke="#2f8a2f" stroke-width="1.25"/>
<circle cx="167.4" cy="929.9" r="6.3" fill="#5dbe58" stroke="#2f8a2f" stroke-width="1.25"/>
<circle cx="167.4" cy="939.9" r="6.3" fill="#5dbe58" stroke="#2f8a2f" stroke-width="1.25"/>
<circle cx="172.8" cy="957.9" r="6.3" fill="#5dbe58" stroke="#2f8a2f" stroke-width="1.25"/>
<circle cx="167.6" cy="960.5" r="6.3" fill="#5dbe58" stroke="#2f8a2f" stroke-width="1.25"/>
<circle cx="172.9" cy="973.0" r="6.3" fill="#5dbe58" stroke="#2f8a2f" stroke-width="1.25"/>
<circle cx="172.8" cy="983.0" r="6.3" fill="#5dbe58" stroke="#2f8a2f" stroke-width="1.25"/>
<circle cx="167.4" cy="995.0" r="6.3" fill="#5dbe58" stroke="#2f8a2f" stroke-width="1.25"/>
<circle cx="167.6" cy="1020.0" r="6.3" fill="#5dbe58" stroke="#2f8a2f" stroke-width="1.25"/>
<circle cx="172.6" cy="1013.0" r="6.3" fill="#5dbe58" stroke="#2f8a2f" stroke-width="1.25"/>
<circle cx="207.7" cy="995.7" r="6.3" fill="#5dbe58" stroke="#2f8a2f" stroke-width="1.25"/>
<circle cx="207.3" cy="1018.7" r="6.3" fill="#5dbe58" stroke="#2f8a2f" stroke-width="1.25"/>
<circle cx="208.1" cy="979.6" r="6.3" fill="#5dbe58" stroke="#2f8a2f" stroke-width="1.25"/>
<circle cx="208.6" cy="1000.6" r="6.3" fill="#5dbe58" stroke="#2f8a2f" stroke-width="1.25"/>
<circle cx="202.4" cy="975.5" r="6.3" fill="#5dbe58" stroke="#2f8a2f" stroke-width="1.25"/>
<circle cx="202.2" cy="980.8" r="6.3" fill="#5dbe58" stroke="#2f8a2f" stroke-width="1.25"/>
<circle cx="202.2" cy="956.5" r="6.3" fill="#5dbe58" stroke="#2f8a2f" stroke-width="1.25"/>
<circle cx="201.9" cy="1018.7" r="6.3" fill="#5dbe58" stroke="#2f8a2f" stroke-width="1.25"/>
<circle cx="201.9" cy="951.1" r="6.3" fill="#5dbe58" stroke="#2f8a2f" stroke-width="1.25"/>
<circle cx="207.9" cy="966.1" r="6.3" fill="#5dbe58" stroke="#2f8a2f" stroke-width="1.25"/>
<circle cx="202.2" cy="1023.0" r="6.3" fill="#5dbe58" stroke="#2f8a2f" stroke-width="1.25"/>
<circle cx="201.9" cy="997.1" r="6.3" fill="#5dbe58" stroke="#2f8a2f" stroke-width="1.25"/>
<circle cx="201.7" cy="970.4" r="6.3" fill="#5dbe58" stroke="#2f8a2f" stroke-width="1.25"/>
<circle cx="203.1" cy="961.1" r="6.3" fill="#5dbe58" stroke="#2f8a2f" stroke-width="1.25"/>
<circle cx="202.8" cy="1009.2" r="6.3" fill="#5dbe58" stroke="#2f8a2f" stroke-width="1.25"/>
<circle cx="202.9" cy="992.3" r="6.3" fill="#5dbe58" stroke="#2f8a2f" stroke-width="1.25"/>
<circle cx="207.9" cy="1014.8" r="6.3" fill="#5dbe58" stroke="#2f8a2f" stroke-width="1.25"/>
<circle cx="202.9" cy="1014.8" r="6.3" fill="#5dbe58" stroke="#2f8a2f" stroke-width="1.25"/>
<circle cx="207.4" cy="970.3" r="6.3" fill="#5dbe58" stroke="#2f8a2f" stroke-width="1.25"/>
<circle cx="207.9" cy="1008.6" r="6.3" fill="#5dbe58" stroke="#2f8a2f" stroke-width="1.25"/>
<circle cx="202.6" cy="987.9" r="6.3" fill="#5dbe58" stroke="#2f8a2f" stroke-width="1.25"/>
<circle cx="207.7" cy="962.0" r="6.3" fill="#5dbe58" stroke="#2f8a2f" stroke-width="1.25"/>
<circle cx="202.8" cy="1028.0" r="6.3" fill="#5dbe58" stroke="#2f8a2f" stroke-width="1.25"/>
<circle cx="202.1" cy="965.9" r="6.3" fill="#5dbe58" stroke="#2f8a2f" stroke-width="1.25"/>
<circle cx="201.9" cy="1005.2" r="6.3" fill="#5dbe58" stroke="#2f8a2f" stroke-width="1.25"/>
<circle cx="202.2" cy="1000.3" r="6.3" fill="#5dbe58" stroke="#2f8a2f" stroke-width="1.25"/>
<circle cx="207.9" cy="1005.5" r="6.3" fill="#5dbe58" stroke="#2f8a2f" stroke-width="1.25"/>
<circle cx="208.6" cy="987.3" r="6.3" fill="#5dbe58" stroke="#2f8a2f" stroke-width="1.25"/>
<circle cx="202.7" cy="947.0" r="6.3" fill="#5dbe58" stroke="#2f8a2f" stroke-width="1.25"/>
<circle cx="207.2" cy="992.2" r="6.3" fill="#5dbe58" stroke="#2f8a2f" stroke-width="1.25"/>
<circle cx="207.8" cy="976.5" r="6.3" fill="#5dbe58" stroke="#2f8a2f" stroke-width="1.25"/>
<circle cx="208.3" cy="1024.1" r="6.3" fill="#5dbe58" stroke="#2f8a2f" stroke-width="1.25"/>
<circle cx="208.0" cy="982.7" r="6.3" fill="#5dbe58" stroke="#2f8a2f" stroke-width="1.25"/>
<circle cx="202.5" cy="983.9" r="6.3" fill="#5dbe58" stroke="#2f8a2f" stroke-width="1.25"/>
<circle cx="202.4" cy="944.7" r="6.3" fill="#5dbe58" stroke="#2f8a2f" stroke-width="1.25"/>
<circle cx="202.6" cy="957.0" r="6.3" fill="#5dbe58" stroke="#2f8a2f" stroke-width="1.25"/>
<circle cx="202.4" cy="973.0" r="6.3" fill="#5dbe58" stroke="#2f8a2f" stroke-width="1.25"/>
<circle cx="202.4" cy="990.0" r="6.3" fill="#5dbe58" stroke="#2f8a2f" stroke-width="1.25"/>
<circle cx="207.9" cy="1026.0" r="6.3" fill="#5dbe58" stroke="#2f8a2f" stroke-width="1.25"/>
<circle cx="243.6" cy="980.9" r="6.3" fill="#5dbe58" stroke="#2f8a2f" stroke-width="1.25"/>
<circle cx="243.6" cy="996.2" r="6.3" fill="#5dbe58" stroke="#2f8a2f" stroke-width="1.25"/>
<circle cx="243.6" cy="1012.6" r="6.3" fill="#5dbe58" stroke="#2f8a2f" stroke-width="1.25"/>
<circle cx="243.6" cy="1020.9" r="6.3" fill="#5dbe58" stroke="#2f8a2f" stroke-width="1.25"/>
<circle cx="279.7" cy="961.8" r="6.3" fill="#5dbe58" stroke="#2f8a2f" stroke-width="1.25"/>
<circle cx="279.7" cy="977.6" r="6.3" fill="#5dbe58" stroke="#2f8a2f" stroke-width="1.25"/>
<circle cx="528.9" cy="883.4" r="6.3" fill="#5dbe58" stroke="#2f8a2f" stroke-width="1.25"/>
<rect x="162.2" y="1082.5" width="10.8" height="10.8" fill="#3f4ec2" stroke="#26307c" stroke-width="1.25"/>
<rect x="162.5" y="1086.1" width="10.8" height="10.8" fill="#3f4ec2" stroke="#26307c" stroke-width="1.25"/>
<rect x="161.4" y="1108.6" width="10.8" height="10.8" fill="#3f4ec2" stroke="#26307c" stroke-width="1.25"/>
<rect x="161.3" y="1072.9" width="10.8" height="10.8" fill="#3f4ec2" stroke="#26307c" stroke-width="1.25"/>
<rect x="162.3" y="1120.2" width="10.8" height="10.8" fill="#3f4ec2" stroke="#26307c" stroke-width="1.25"/>
<rect x="162.2" y="1141.9" width="10.8" height="10.8" fill="#3f4ec2" stroke="#26307c" stroke-width="1.25"/>
<rect x="166.9" y="1142.2" width="10.8" height="10.8" fill="#3f4ec2" stroke="#26307c" stroke-width="1.25"/>
<rect x="167.8" y="1093.8" width="10.8" height="10.8" fill="#3f4ec2" stroke="#26307c" stroke-width="1.25"/>
<rect x="167.8" y="1101.1" width="10.8" height="10.8" fill="#3f4ec2" stroke="#26307c" stroke-width="1.25"/>
<rect x="161.5" y="1067.7" width="10.8" height="10.8" fill="#3f4ec2" stroke="#26307c" stroke-width="1.25"/>
<rect x="166.7" y="1052.9" width="10.8" height="10.8" fill="#3f4ec2" stroke="#26307c" stroke-width="1.25"/>
<rect x="166.8" y="1060.2" width="10.8" height="10.8" fill="#3f4ec2" stroke="#26307c" stroke-width="1.25"/>
<rect x="161.9" y="1061.0" width="10.8" height="10.8" fill="#3f4ec2" stroke="#26307c" stroke-width="1.25"/>
<rect x="167.8" y="1131.7" width="10.8" height="10.8" fill="#3f4ec2" stroke="#26307c" stroke-width="1.25"/>
<rect x="161.9" y="1050.0" width="10.8" height="10.8" fill="#3f4ec2" stroke="#26307c" stroke-width="1.25"/>
<rect x="167.9" y="1064.9" width="10.8" height="10.8" fill="#3f4ec2" stroke="#26307c" stroke-width="1.25"/>
<rect x="161.9" y="1135.4" width="10.8" height="10.8" fill="#3f4ec2" stroke="#26307c" stroke-width="1.25"/>
<rect x="162.3" y="1089.9" width="10.8" height="10.8" fill="#3f4ec2" stroke="#26307c" stroke-width="1.25"/>
<rect x="162.3" y="1125.3" width="10.8" height="10.8" fill="#3f4ec2" stroke="#26307c" stroke-width="1.25"/>
<rect x="167.3" y="1086.6" width="10.8" height="10.8" fill="#3f4ec2" stroke="#26307c" stroke-width="1.25"/>
<rect x="167.3" y="1082.2" width="10.8" height="10.8" fill="#3f4ec2" stroke="#26307c" stroke-width="1.25"/>
<rect x="167.2" y="1110.5" width="10.8" height="10.8" fill="#3f4ec2" stroke="#26307c" stroke-width="1.25"/>
<rect x="167.2" y="1105.3" width="10.8" height="10.8" fill="#3f4ec2" stroke="#26307c" stroke-width="1.25"/>
<rect x="161.9" y="1164.8" width="10.8" height="10.8" fill="#3f4ec2" stroke="#26307c" stroke-width="1.25"/>
<rect x="167.0" y="1120.3" width="10.8" height="10.8" fill="#3f4ec2" stroke="#26307c" stroke-width="1.25"/>
<rect x="161.5" y="1131.8" width="10.8" height="10.8" fill="#3f4ec2" stroke="#26307c" stroke-width="1.25"/>
<rect x="167.5" y="1115.1" width="10.8" height="10.8" fill="#3f4ec2" stroke="#26307c" stroke-width="1.25"/>
<rect x="161.3" y="1044.6" width="10.8" height="10.8" fill="#3f4ec2" stroke="#26307c" stroke-width="1.25"/>
<rect x="162.2" y="1098.0" width="10.8" height="10.8" fill="#3f4ec2" stroke="#26307c" stroke-width="1.25"/>
<rect x="162.1" y="1159.7" width="10.8" height="10.8" fill="#3f4ec2" stroke="#26307c" stroke-width="1.25"/>
<rect x="162.0" y="1055.6" width="10.8" height="10.8" fill="#3f4ec2" stroke="#26307c" stroke-width="1.25"/>
<rect x="162.2" y="1147.3" width="10.8" height="10.8" fill="#3f4ec2" stroke="#26307c" stroke-width="1.25"/>
<rect x="161.4" y="1156.4" width="10.8" height="10.8" fill="#3f4ec2" stroke="#26307c" stroke-width="1.25"/>
<rect x="162.0" y="1102.3" width="10.8" height="10.8" fill="#3f4ec2" stroke="#26307c" stroke-width="1.25"/>
<rect x="166.9" y="1044.2" width="10.8" height="10.8" fill="#3f4ec2" stroke="#26307c" stroke-width="1.25"/>
<rect x="161.5" y="1150.9" width="10.8" height="10.8" fill="#3f4ec2" stroke="#26307c" stroke-width="1.25"/>
<rect x="167.1" y="1137.8" width="10.8" height="10.8" fill="#3f4ec2" stroke="#26307c" stroke-width="1.25"/>
<rect x="167.3" y="1075.4" width="10.8" height="10.8" fill="#3f4ec2" stroke="#26307c" stroke-width="1.25"/>
<rect x="166.8" y="1047.6" width="10.8" height="10.8" fill="#3f4ec2" stroke="#26307c" stroke-width="1.25"/>
<rect x="166.8" y="1125.0" width="10.8" height="10.8" fill="#3f4ec2" stroke="#26307c" stroke-width="1.25"/>
<rect x="162.4" y="1114.6" width="10.8" height="10.8" fill="#3f4ec2" stroke="#26307c" stroke-width="1.25"/>
<rect x="161.6" y="1093.0" width="10.8" height="10.8" fill="#3f4ec2" stroke="#26307c" stroke-width="1.25"/>
<rect x="166.9" y="1070.9" width="10.8" height="10.8" fill="#3f4ec2" stroke="#26307c" stroke-width="1.25"/>
<rect x="167.8" y="1040.6" width="10.8" height="10.8" fill="#3f4ec2" stroke="#26307c" stroke-width="1.25"/>
<rect x="162.2" y="1079.1" width="10.8" height="10.8" fill="#3f4ec2" stroke="#26307c" stroke-width="1.25"/>
<rect x="160.4" y="1041.2" width="10.8" height="10.8" fill="#3f4ec2" stroke="#26307c" stroke-width="1.25"/>
<rect x="167.4" y="1036.8" width="10.8" height="10.8" fill="#3f4ec2" stroke="#26307c" stroke-width="1.25"/>
<rect x="167.3" y="1044.5" width="10.8" height="10.8" fill="#3f4ec2" stroke="#26307c" stroke-width="1.25"/>
<rect x="167.3" y="1057.8" width="10.8" height="10.8" fill="#3f4ec2" stroke="#26307c" stroke-width="1.25"/>
<rect x="161.9" y="1069.6" width="10.8" height="10.8" fill="#3f4ec2" stroke="#26307c" stroke-width="1.25"/>
<rect x="161.9" y="1086.6" width="10.8" height="10.8" fill="#3f4ec2" stroke="#26307c" stroke-width="1.25"/>
<rect x="167.3" y="1129.6" width="10.8" height="10.8" fill="#3f4ec2" stroke="#26307c" stroke-width="1.25"/>
<rect x="161.9" y="1162.6" width="10.8" height="10.8" fill="#3f4ec2" stroke="#26307c" stroke-width="1.25"/>
<rect x="167.3" y="1172.3" width="10.8" height="10.8" fill="#3f4ec2" stroke="#26307c" stroke-width="1.25"/>
<rect x="196.8" y="1064.7" width="10.8" height="10.8" fill="#3f4ec2" stroke="#26307c" stroke-width="1.25"/>
<rect x="196.7" y="1080.0" width="10.8" height="10.8" fill="#3f4ec2" stroke="#26307c" stroke-width="1.25"/>
<rect x="197.6" y="1092.5" width="10.8" height="10.8" fill="#3f4ec2" stroke="#26307c" stroke-width="1.25"/>
<rect x="196.4" y="1076.7" width="10.8" height="10.8" fill="#3f4ec2" stroke="#26307c" stroke-width="1.25"/>
<rect x="197.0" y="1059.7" width="10.8" height="10.8" fill="#3f4ec2" stroke="#26307c" stroke-width="1.25"/>
<rect x="196.7" y="1085.4" width="10.8" height="10.8" fill="#3f4ec2" stroke="#26307c" stroke-width="1.25"/>
<rect x="197.5" y="1119.1" width="10.8" height="10.8" fill="#3f4ec2" stroke="#26307c" stroke-width="1.25"/>
<rect x="197.4" y="1068.8" width="10.8" height="10.8" fill="#3f4ec2" stroke="#26307c" stroke-width="1.25"/>
<rect x="196.9" y="1128.5" width="10.8" height="10.8" fill="#3f4ec2" stroke="#26307c" stroke-width="1.25"/>
<rect x="197.5" y="1097.2" width="10.8" height="10.8" fill="#3f4ec2" stroke="#26307c" stroke-width="1.25"/>
<rect x="197.0" y="1124.7" width="10.8" height="10.8" fill="#3f4ec2" stroke="#26307c" stroke-width="1.25"/>
<rect x="196.7" y="1115.4" width="10.8" height="10.8" fill="#3f4ec2" stroke="#26307c" stroke-width="1.25"/>
<rect x="197.5" y="1072.6" width="10.8" height="10.8" fill="#3f4ec2" stroke="#26307c" stroke-width="1.25"/>
<rect x="196.9" y="1054.6" width="10.8" height="10.8" fill="#3f4ec2" stroke="#26307c" stroke-width="1.25"/>
<rect x="197.5" y="1108.5" width="10.8" height="10.8" fill="#3f4ec2" stroke="#26307c" stroke-width="1.25"/>
<rect x="196.5" y="1102.7" width="10.8" height="10.8" fill="#3f4ec2" stroke="#26307c" stroke-width="1.25"/>
<rect x="196.5" y="1089.5" width="10.8" height="10.8" fill="#3f4ec2" stroke="#26307c" stroke-width="1.25"/>
<rect x="202.3" y="1028.1" width="10.8" height="10.8" fill="#3f4ec2" stroke="#26307c" stroke-width="1.25"/>
<rect x="202.3" y="1053.1" width="10.8" height="10.8" fill="#3f4ec2" stroke="#26307c" stroke-width="1.25"/>
<rect x="202.3" y="1082.3" width="10.8" height="10.8" fill="#3f4ec2" stroke="#26307c" stroke-width="1.25"/>
<rect x="202.3" y="1099.2" width="10.8" height="10.8" fill="#3f4ec2" stroke="#26307c" stroke-width="1.25"/>
<rect x="202.3" y="1126.7" width="10.8" height="10.8" fill="#3f4ec2" stroke="#26307c" stroke-width="1.25"/>
<rect x="202.3" y="1141.9" width="10.8" height="10.8" fill="#3f4ec2" stroke="#26307c" stroke-width="1.25"/>
<rect x="203.5" y="1147.7" width="10.8" height="10.8" fill="#3f4ec2" stroke="#26307c" stroke-width="1.25"/>
<rect x="197.0" y="1152.1" width="10.8" height="10.8" fill="#3f4ec2" stroke="#26307c" stroke-width="1.25"/>
<rect x="197.0" y="1148.9" width="10.8" height="10.8" fill="#3f4ec2" stroke="#26307c" stroke-width="1.25"/>
<rect x="197.0" y="1060.6" width="10.8" height="10.8" fill="#3f4ec2" stroke="#26307c" stroke-width="1.25"/>
<rect x="197.0" y="1075.6" width="10.8" height="10.8" fill="#3f4ec2" stroke="#26307c" stroke-width="1.25"/>
<rect x="197.0" y="1112.6" width="10.8" height="10.8" fill="#3f4ec2" stroke="#26307c" stroke-width="1.25"/>
<rect x="197.0" y="1123.6" width="10.8" height="10.8" fill="#3f4ec2" stroke="#26307c" stroke-width="1.25"/>
<rect x="238.5" y="1059.7" width="10.8" height="10.8" fill="#3f4ec2" stroke="#26307c" stroke-width="1.25"/>
<rect x="238.5" y="1083.5" width="10.8" height="10.8" fill="#3f4ec2" stroke="#26307c" stroke-width="1.25"/>
<rect x="238.5" y="1100.6" width="10.8" height="10.8" fill="#3f4ec2" stroke="#26307c" stroke-width="1.25"/>
<rect x="238.5" y="1149.4" width="10.8" height="10.8" fill="#3f4ec2" stroke="#26307c" stroke-width="1.25"/>
<rect x="274.3" y="1035.2" width="10.8" height="10.8" fill="#3f4ec2" stroke="#26307c" stroke-width="1.25"/>
<rect x="274.3" y="1058.5" width="10.8" height="10.8" fill="#3f4ec2" stroke="#26307c" stroke-width="1.25"/>
<rect x="523.8" y="902.7" width="10.8" height="10.8" fill="#3f4ec2" stroke="#26307c" stroke-width="1.25"/>
<circle cx="624.5" cy="872.9" r="10.4" fill="#5dbe58" stroke="#2f7a2f" stroke-width="1.1"/>
<text transform="translate(636.4,880.3) scale(1.0,1)" font-size="21.3" text-anchor="start">R2</text>
<rect x="614.9" y="890.2" width="19.8" height="20" fill="#3f4ec2" stroke="#26307c" stroke-width="1"/>
<text transform="translate(636.4,906.0) scale(1.0,1)" font-size="21.3" text-anchor="start">Q2</text>
</svg></body></html>
